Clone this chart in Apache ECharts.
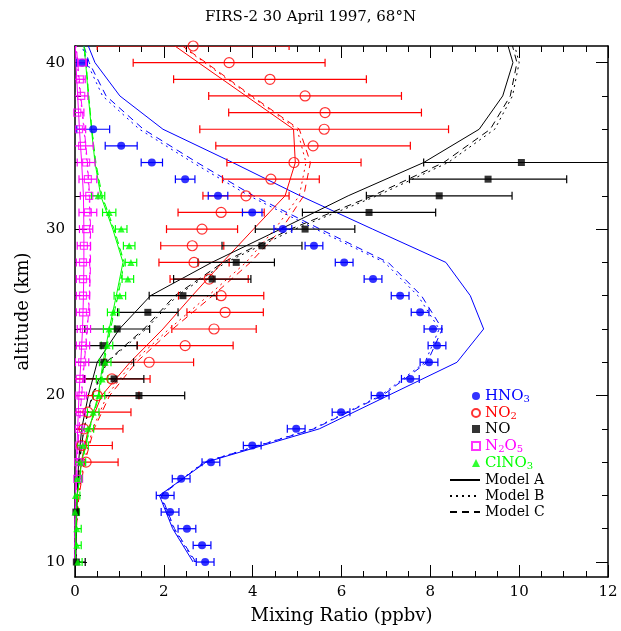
<!DOCTYPE html>
<html>
<head>
<meta charset="utf-8">
<script src="https://cdn.jsdelivr.net/npm/echarts@6/dist/echarts.min.js"></script>
<style>
  html, body { margin: 0; padding: 0; background: #ffffff; }
  #chart { width: 621px; height: 631px; }
</style>
</head>
<body>
<div id="chart"></div>
<script>
// ---- Measured profiles (altitude km, mixing ratio ppbv, 1-sigma error) ----
const hno3Alt = [10, 11, 12, 13, 14, 15, 16, 17, 18, 19, 20, 21, 22, 23, 24, 25, 26, 27, 28, 29, 30, 31, 32, 33, 34, 35, 36, 40];
const hno3Val = [2.93, 2.86, 2.52, 2.14, 2.03, 2.39, 3.06, 3.99, 4.98, 5.99, 6.87, 7.55, 7.97, 8.15, 8.06, 7.77, 7.32, 6.71, 6.06, 5.38, 4.68, 3.99, 3.22, 2.48, 1.73, 1.04, 0.41, 0.16];
const hno3Err = [0.2, 0.2, 0.2, 0.2, 0.2, 0.2, 0.2, 0.2, 0.2, 0.2, 0.2, 0.2, 0.2, 0.2, 0.2, 0.2, 0.2, 0.2, 0.2, 0.2, 0.2, 0.22, 0.22, 0.22, 0.24, 0.36, 0.37, 0.12];

const no2Alt = [16, 17, 18, 19, 20, 21, 22, 23, 24, 25, 26, 27, 28, 29, 30, 31, 32, 33, 34, 35, 36, 37, 38, 39, 40, 41];
const no2Val = [0.25, 0.15, 0.2, 0.29, 0.5, 0.83, 1.67, 2.48, 3.13, 3.38, 3.29, 3.02, 2.68, 2.64, 2.86, 3.29, 3.85, 4.41, 4.93, 5.36, 5.61, 5.63, 5.18, 4.39, 3.47, 2.66];
const no2Err = [0.72, 0.69, 0.88, 0.97, 0.94, 0.86, 1.0, 1.08, 0.95, 0.86, 0.96, 0.88, 0.79, 0.71, 0.8, 0.97, 0.97, 1.09, 1.51, 2.19, 2.8, 2.17, 2.17, 2.17, 2.16, 2.16];

const noAlt = [10, 13, 20, 21, 22, 23, 24, 25, 26, 27, 28, 29, 30, 31, 32, 33, 34];
const noVal = [0.03, 0.02, 1.44, 0.88, 0.65, 0.63, 0.95, 1.64, 2.43, 3.09, 3.63, 4.21, 5.18, 6.62, 8.2, 9.3, 10.05];
const noErr = [0.2, 0.05, 1.03, 0.67, 0.67, 0.77, 0.73, 0.68, 0.76, 0.87, 0.86, 0.9, 1.12, 1.5, 1.64, 1.77, 2.2];

const n2o5Alt = [15, 16, 17, 18, 19, 20, 21, 22, 23, 24, 25, 26, 27, 28, 29, 30, 31, 32, 33, 34, 35, 36, 37, 38, 39, 40];
const n2o5Val = [0.05, 0.07, 0.09, 0.09, 0.11, 0.14, 0.11, 0.16, 0.18, 0.2, 0.18, 0.18, 0.18, 0.18, 0.2, 0.25, 0.29, 0.32, 0.29, 0.25, 0.16, 0.09, 0.05, 0.14, 0.11, 0.16];
const n2o5Err = [0.12, 0.12, 0.12, 0.12, 0.12, 0.12, 0.12, 0.15, 0.15, 0.15, 0.15, 0.15, 0.15, 0.15, 0.15, 0.15, 0.2, 0.2, 0.2, 0.2, 0.25, 0.15, 0.15, 0.15, 0.12, 0.1];

const clno3Alt = [10, 11, 12, 13, 14, 15, 16, 17, 18, 19, 20, 21, 22, 23, 24, 25, 26, 27, 28, 29, 30, 31, 32];
const clno3Val = [0.06, 0.04, 0.04, 0.0, 0.01, 0.05, 0.12, 0.18, 0.29, 0.41, 0.54, 0.61, 0.68, 0.72, 0.77, 0.86, 1.01, 1.19, 1.26, 1.22, 1.04, 0.77, 0.52];
const clno3Err = [0.1, 0.1, 0.1, 0.1, 0.1, 0.1, 0.12, 0.12, 0.13, 0.13, 0.13, 0.13, 0.13, 0.13, 0.13, 0.13, 0.13, 0.13, 0.13, 0.13, 0.13, 0.15, 0.15];

// ---- Model profiles on the model altitude grid ----
const modelAlt = [10, 12, 14, 16, 18, 20, 22, 24, 26, 28, 30, 32, 34, 36, 38, 40, 41];
const hno3ModelA = [2.66, 2.2, 1.9, 2.95, 5.5, 7.05, 8.6, 9.2, 8.9, 8.35, 6.7, 5.07, 3.55, 1.98, 1.01, 0.45, 0.3];
const hno3ModelB = [2.7, 2.22, 1.92, 2.9, 5.35, 6.88, 7.88, 8.2, 7.72, 6.97, 5.42, 3.92, 2.65, 1.45, 0.62, 0.27, 0.16];
const hno3ModelC = [2.72, 2.24, 1.94, 2.92, 5.38, 6.92, 7.93, 8.27, 7.8, 7.05, 5.52, 4.02, 2.75, 1.54, 0.7, 0.32, 0.2];
const no2ModelA = [0.01, 0.02, 0.05, 0.14, 0.3, 0.6, 1.24, 1.98, 2.64, 3.32, 4.02, 4.73, 4.96, 4.92, 3.85, 2.78, 2.25];
const no2ModelB = [0.01, 0.03, 0.08, 0.2, 0.4, 0.72, 1.3, 2.12, 3.0, 3.85, 4.5, 5.05, 5.2, 5.0, 3.95, 2.92, 2.4];
const no2ModelC = [0.01, 0.03, 0.09, 0.22, 0.43, 0.78, 1.38, 2.2, 3.1, 3.95, 4.65, 5.15, 5.3, 5.05, 3.98, 2.95, 2.42];
const noModelA = [0.02, 0.03, 0.05, 0.08, 0.15, 0.3, 0.5, 1.0, 1.7, 3.08, 4.63, 6.15, 7.85, 9.1, 9.63, 9.86, 9.75];
const noModelB = [0.02, 0.03, 0.05, 0.1, 0.2, 0.4, 0.72, 1.6, 2.3, 3.4, 4.95, 6.8, 8.4, 9.45, 9.85, 10.0, 9.9];
const noModelC = [0.02, 0.03, 0.05, 0.1, 0.2, 0.38, 0.7, 1.55, 2.25, 3.33, 4.85, 6.7, 8.3, 9.35, 9.8, 9.95, 9.85];
const n2o5ModelA = [0.0, 0.0, 0.01, 0.03, 0.06, 0.09, 0.13, 0.17, 0.19, 0.2, 0.2, 0.19, 0.15, 0.1, 0.06, 0.02, 0.01];
const n2o5ModelB = [0.0, 0.0, 0.02, 0.05, 0.09, 0.14, 0.2, 0.27, 0.32, 0.34, 0.34, 0.32, 0.27, 0.2, 0.12, 0.05, 0.03];
const n2o5ModelC = [0.0, 0.0, 0.02, 0.05, 0.09, 0.15, 0.21, 0.28, 0.33, 0.35, 0.35, 0.33, 0.28, 0.21, 0.13, 0.06, 0.03];
const clno3ModelA = [0.01, 0.02, 0.05, 0.15, 0.32, 0.52, 0.63, 0.77, 0.93, 1.08, 0.85, 0.58, 0.45, 0.37, 0.3, 0.24, 0.2];
const clno3ModelB = [0.01, 0.02, 0.05, 0.16, 0.33, 0.53, 0.65, 0.79, 0.96, 1.1, 0.87, 0.6, 0.46, 0.38, 0.31, 0.25, 0.21];
const clno3ModelC = [0.01, 0.02, 0.05, 0.16, 0.33, 0.54, 0.66, 0.8, 0.97, 1.11, 0.88, 0.61, 0.47, 0.38, 0.31, 0.25, 0.21];

// ---- Axis tick positions ----
const yMajorTicks = [10, 20, 30, 40];
const yMinorTicks = [12, 14, 16, 18, 22, 24, 26, 28, 32, 34, 36, 38];

const BLUE = '#0000ff', RED = '#ff0000', BLACK = '#000000', MAGENTA = '#ff00ff', GREEN = '#00ff00';
const CLEAR = 'rgba(0,0,0,0)';
const FONT = 'DejaVu Serif';
const DOTTED = [2, 4];
const DASHED = [7, 5];

function pairs(alts, vals) {
  return alts.map((a, i) => [vals[i], a]);
}

function modelLine(name, alts, vals, color, type) {
  return {
    type: 'line', name: name, data: pairs(alts, vals),
    symbol: 'none', silent: true, z: 1,
    lineStyle: { color: color, width: 1, type: type },
    itemStyle: { color: color },
    clip: true
  };
}

function errorBars(name, alts, vals, errs, color) {
  const data = alts.map((a, i) => [vals[i] - errs[i], vals[i] + errs[i], a]);
  return {
    type: 'custom', name: name, silent: true, z: 2, clip: true,
    encode: { x: [0, 1], y: 2 },
    data: data,
    renderItem: function (params, api) {
      const lo = api.coord([api.value(0), api.value(2)]);
      const hi = api.coord([api.value(1), api.value(2)]);
      const h = 4;
      const st = { stroke: color, lineWidth: 1.2 };
      return {
        type: 'group',
        children: [
          { type: 'line', shape: { x1: lo[0], y1: lo[1], x2: hi[0], y2: hi[1] }, style: st },
          { type: 'line', shape: { x1: lo[0], y1: lo[1] - h, x2: lo[0], y2: lo[1] + h }, style: st },
          { type: 'line', shape: { x1: hi[0], y1: hi[1] - h, x2: hi[0], y2: hi[1] + h }, style: st }
        ]
      };
    }
  };
}

function points(name, alts, vals, symbol, size, itemStyle) {
  return {
    type: 'scatter', name: name, data: pairs(alts, vals),
    symbol: symbol, symbolSize: size, z: 3, silent: true,
    itemStyle: itemStyle
  };
}

// Legend labels with chemical subscripts
const species = [
  { name: 'HNO3', parts: [['HNO', 0], ['3', 1]], color: BLUE, icon: 'circle' },
  { name: 'NO2', parts: [['NO', 0], ['2', 1]], color: RED, icon: 'circle' },
  { name: 'NO', parts: [['NO', 0]], color: BLACK, icon: 'rect' },
  { name: 'N2O5', parts: [['N', 0], ['2', 1], ['O', 0], ['5', 1]], color: MAGENTA, icon: 'rect' },
  { name: 'ClNO3', parts: [['ClNO', 0], ['3', 1]], color: GREEN, icon: 'triangle' }
];
const rich = {};
species.forEach((s, k) => {
  rich['m' + k] = { color: s.color, fontSize: 15, fontFamily: FONT, lineHeight: 16, verticalAlign: 'middle' };
  rich['s' + k] = { color: s.color, fontSize: 10, fontFamily: FONT, lineHeight: 16, verticalAlign: 'bottom', padding: [7, 0, 0, 0] };
});

// legend-only entries for the three model line styles (marker hidden)
function modelKey(name, type) {
  return {
    type: 'line', name: name, data: [], symbol: 'none',
    lineStyle: { color: BLACK, width: 1, type: type },
    itemStyle: { color: CLEAR, borderColor: CLEAR }
  };
}

const seriesList = [
  modelLine('HNO3 model A', modelAlt, hno3ModelA, BLUE, 'solid'),
  modelLine('HNO3 model B', modelAlt, hno3ModelB, BLUE, DOTTED),
  modelLine('HNO3 model C', modelAlt, hno3ModelC, BLUE, DASHED),
  modelLine('NO2 model A', modelAlt, no2ModelA, RED, 'solid'),
  modelLine('NO2 model B', modelAlt, no2ModelB, RED, DOTTED),
  modelLine('NO2 model C', modelAlt, no2ModelC, RED, DASHED),
  modelLine('NO model A', modelAlt, noModelA, BLACK, 'solid'),
  modelLine('NO model B', modelAlt, noModelB, BLACK, DOTTED),
  modelLine('NO model C', modelAlt, noModelC, BLACK, DASHED),
  modelLine('N2O5 model A', modelAlt, n2o5ModelA, MAGENTA, 'solid'),
  modelLine('N2O5 model B', modelAlt, n2o5ModelB, MAGENTA, DOTTED),
  modelLine('N2O5 model C', modelAlt, n2o5ModelC, MAGENTA, DASHED),
  modelLine('ClNO3 model A', modelAlt, clno3ModelA, GREEN, 'solid'),
  modelLine('ClNO3 model B', modelAlt, clno3ModelB, GREEN, DOTTED),
  modelLine('ClNO3 model C', modelAlt, clno3ModelC, GREEN, DASHED),

  errorBars('NO2 error', no2Alt, no2Val, no2Err, RED),
  errorBars('NO error', noAlt, noVal, noErr, BLACK),
  errorBars('HNO3 error', hno3Alt, hno3Val, hno3Err, BLUE),
  errorBars('N2O5 error', n2o5Alt, n2o5Val, n2o5Err, MAGENTA),
  errorBars('ClNO3 error', clno3Alt, clno3Val, clno3Err, GREEN),

  points('NO2', no2Alt, no2Val, 'circle', 10, { color: CLEAR, borderColor: RED, borderWidth: 1.2 }),
  points('NO', noAlt, noVal, 'rect', 7, { color: BLACK }),
  points('HNO3', hno3Alt, hno3Val, 'circle', 8, { color: BLUE }),
  points('N2O5', n2o5Alt, n2o5Val, 'rect', 7, { color: CLEAR, borderColor: MAGENTA, borderWidth: 1.2 }),
  points('ClNO3', clno3Alt, clno3Val, 'triangle', 7, { color: GREEN }),

  modelKey('Model A', 'solid'),
  modelKey('Model B', DOTTED),
  modelKey('Model C', DASHED)
];

const axisLineStyle = { color: BLACK, width: 1.5 };
const yRange = { min: 9.1, max: 41 };

function xAxisDef(position, showLabels) {
  return {
    type: 'value', position: position, min: 0, max: 12, interval: 2,
    axisLine: { show: true, onZero: false, lineStyle: axisLineStyle },
    axisTick: { show: true, inside: true, length: 12, lineStyle: { color: BLACK, width: 1 } },
    minorTick: { show: true, splitNumber: 4, length: 6, lineStyle: { color: BLACK, width: 1 } },
    axisLabel: { show: showLabels, color: BLACK, fontFamily: FONT, fontSize: 15, margin: 8 },
    splitLine: { show: false },
    name: showLabels ? 'Mixing Ratio (ppbv)' : '',
    nameLocation: 'middle', nameGap: 30,
    nameTextStyle: { color: BLACK, fontFamily: FONT, fontSize: 18 }
  };
}

function yAxisDef(position, ticks, len, showLine, showLabels) {
  return {
    type: 'value', position: position, min: yRange.min, max: yRange.max,
    axisLine: { show: showLine, onZero: false, lineStyle: axisLineStyle },
    axisTick: { show: true, inside: true, length: len, customValues: ticks, lineStyle: { color: BLACK, width: 1 } },
    axisLabel: { show: showLabels, customValues: ticks, color: BLACK, fontFamily: FONT, fontSize: 15, margin: 10 },
    splitLine: { show: false },
    name: showLabels ? 'altitude (km)' : '',
    nameLocation: 'middle', nameGap: 43, nameRotate: 90,
    nameTextStyle: { color: BLACK, fontFamily: FONT, fontSize: 18 }
  };
}

const chart = echarts.init(document.getElementById('chart'), null, { renderer: 'canvas' });
chart.setOption({
  animation: false,
  backgroundColor: '#ffffff',
  title: {
    text: 'FIRS-2 30 April 1997, 68°N',
    left: 'center', top: 5,
    textStyle: { color: BLACK, fontFamily: FONT, fontSize: 15, fontWeight: 'normal' }
  },
  grid: { left: 75, right: 13, top: 46, bottom: 54 },
  xAxis: [xAxisDef('bottom', true), xAxisDef('top', false)],
  yAxis: [
    yAxisDef('left', yMajorTicks, 12, true, true),
    yAxisDef('left', yMinorTicks, 6, false, false),
    yAxisDef('right', yMajorTicks, 12, true, false),
    yAxisDef('right', yMinorTicks, 6, false, false)
  ],
  legend: [
    {
      orient: 'vertical', left: 466, top: 382,
      itemWidth: 8, itemHeight: 8, itemGap: 0, selectedMode: false,
      data: species.map(s => ({ name: s.name, icon: s.icon })),
      formatter: function (name) {
        const k = species.findIndex(s => s.name === name);
        return species[k].parts.map(p => '{' + (p[1] ? 's' : 'm') + k + '|' + p[0] + '}').join('');
      },
      textStyle: { fontFamily: FONT, fontSize: 15, lineHeight: 16, rich: rich }
    },
    {
      orient: 'vertical', left: 444, top: 467,
      itemWidth: 30, itemHeight: 10, itemGap: 0, selectedMode: false,
      data: ['Model A', 'Model B', 'Model C'],
      textStyle: { color: BLACK, fontFamily: FONT, fontSize: 14, lineHeight: 16 }
    }
  ],
  series: seriesList
});
</script>
</body>
</html>
